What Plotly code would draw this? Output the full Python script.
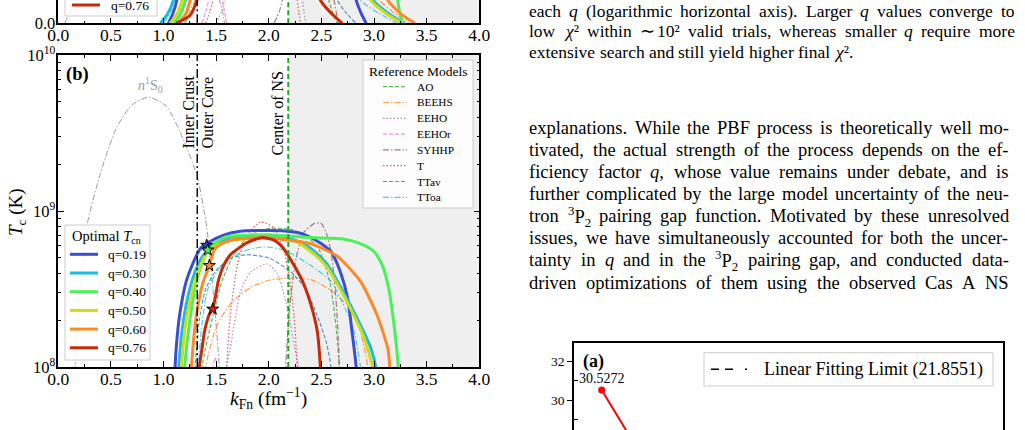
import re
import plotly.graph_objects as go

FONT = "Liberation Serif"
W, H = 1025, 430

# ---------------- panel (b): optimal T_cn curves (T in units of 1e8 K) ----------------
q_labels = ["q=0.19", "q=0.30", "q=0.40", "q=0.50", "q=0.60", "q=0.76"]
q_colors = ["#3b4ed0", "#1cb8e6", "#4cf059", "#cbdc1f", "#fb8a26", "#c52b0b"]

k_q019 = [1.09, 1.11, 1.12, 1.152, 1.216, 1.27, 1.35, 1.43, 1.57, 1.73, 1.95, 2.15, 2.30, 2.40, 2.50, 2.59, 2.68, 2.75, 2.79, 2.83, 2.85]
T_q019 = [0.4, 1.0, 1.32, 2.14, 3.55, 4.47, 5.75, 6.31, 7.0, 7.41, 7.5, 7.45, 7.2, 6.76, 6.17, 5.5, 4.07, 2.75, 1.7, 1.0, 0.4]
k_q030 = [1.12, 1.145, 1.18, 1.24, 1.30, 1.36, 1.42, 1.52, 1.65, 1.85, 2.00, 2.15, 2.30, 2.40, 2.55, 2.71, 2.87, 2.97, 3.016, 3.04]
T_q030 = [0.4, 1.0, 1.8, 3.0, 4.1, 5.0, 5.6, 6.3, 6.75, 6.95, 6.95, 6.8, 6.3, 5.75, 4.6, 3.02, 1.86, 1.32, 1.0, 0.4]
k_q040 = [1.17, 1.20, 1.25, 1.32, 1.42, 1.50, 1.60, 1.80, 2.00, 2.40, 2.71, 2.87, 3.00, 3.08, 3.14, 3.19, 3.23, 3.25]
T_q040 = [0.4, 1.0, 2.0, 3.7, 5.62, 6.3, 6.84, 7.0, 7.05, 6.76, 6.61, 6.17, 5.5, 4.47, 3.16, 1.86, 1.0, 0.4]
k_q050 = [1.145, 1.17, 1.22, 1.30, 1.40, 1.50, 1.65, 1.85, 2.05, 2.25, 2.40, 2.55, 2.71, 2.80, 2.88, 2.94, 2.985, 3.01]
T_q050 = [0.4, 1.0, 2.1, 3.6, 5.25, 6.0, 6.5, 6.7, 6.7, 6.4, 5.5, 4.4, 2.88, 2.2, 1.7, 1.3, 1.0, 0.4]
k_q060 = [1.24, 1.265, 1.31, 1.37, 1.435, 1.49, 1.60, 1.80, 2.00, 2.20, 2.40, 2.65, 2.87, 3.03, 3.13, 3.15, 3.17]
T_q060 = [0.4, 1.0, 2.1, 3.4, 4.47, 5.75, 6.4, 6.68, 6.68, 6.5, 6.17, 5.13, 3.55, 2.14, 1.32, 1.0, 0.4]
k_q076 = [1.32, 1.34, 1.366, 1.39, 1.43, 1.467, 1.49, 1.52, 1.57, 1.635, 1.71, 1.80, 1.94, 2.05, 2.14, 2.23, 2.32, 2.40, 2.46, 2.49, 2.51]
T_q076 = [0.4, 1.0, 1.32, 1.7, 2.14, 2.4, 2.75, 3.55, 4.47, 5.25, 5.75, 6.3, 6.76, 6.5, 5.75, 4.6, 3.55, 2.51, 1.70, 1.0, 0.4]

star_k = [1.41, 1.42, 1.435, 1.467]
star_T = [6.03, 5.62, 4.47, 2.35]
star_colors = ["#3b4ed0", "#4cf059", "#fb8a26", "#c52b0b"]

# ---------------- panel (b): reference models ----------------
ref_names = ["AO", "BEEHS", "EEHO", "EEHOr", "SYHHP", "T", "TTav", "TToa"]
ref_colors = ["#2ca02c", "#ff7f0e", "#9467bd", "#e377c2", "#8c564b", "#d62728", "#1f77b4", "#17becf"]

k_AO = [1.34, 1.366, 1.47, 1.556, 1.667, 1.826, 2.016, 2.21, 2.35, 2.48, 2.58, 2.64, 2.67, 2.69]
T_AO = [0.4, 1.0, 2.14, 3.55, 5.25, 7.08, 7.76, 7.6, 7.0, 5.6, 3.5, 1.8, 1.0, 0.4]
k_BEEHS = [1.36, 1.40, 1.508, 1.65, 1.83, 2.00, 2.20, 2.40, 2.59, 2.71, 2.80, 2.88, 2.94, 2.96]
T_BEEHS = [0.4, 1.0, 1.86, 2.6, 3.24, 3.6, 3.72, 3.63, 3.1, 2.63, 2.3, 1.6, 1.0, 0.4]
k_EEHO = [1.58, 1.60, 1.635, 1.73, 1.83, 1.985, 2.08, 2.15, 2.19, 2.24, 2.28, 2.30]
T_EEHO = [0.4, 1.0, 1.32, 3.02, 4.07, 4.57, 3.98, 2.82, 2.14, 1.4, 1.0, 0.4]
k_EEHOr = [1.45, 1.47, 1.49, 1.51, 1.53]
T_EEHOr = [0.4, 1.0, 1.15, 1.0, 0.4]
k_SYHHP = [2.14, 2.16, 2.20, 2.26, 2.33, 2.43, 2.50, 2.56, 2.60, 2.63, 2.655, 2.67, 2.68]
T_SYHHP = [0.4, 1.0, 2.5, 5.0, 7.24, 8.3, 8.3, 6.8, 5.0, 3.2, 1.8, 1.0, 0.4]
k_T = [1.57, 1.60, 1.63, 1.70, 1.78, 1.92, 2.04, 2.14, 2.20, 2.24, 2.27, 2.29]
T_T = [0.4, 1.0, 2.0, 4.47, 6.8, 8.5, 7.9, 5.75, 3.5, 2.14, 1.0, 0.4]
k_TTav = [1.28, 1.30, 1.34, 1.40, 1.50, 1.65, 1.79, 2.00, 2.21, 2.35, 2.46, 2.55, 2.59, 2.61]
T_TTav = [0.4, 1.0, 2.0, 3.16, 4.17, 5.0, 5.25, 5.0, 4.07, 3.16, 2.14, 1.41, 1.0, 0.4]
k_TToa = [1.31, 1.33, 1.37, 1.42, 1.55, 1.75, 1.95, 2.15, 2.40, 2.59, 2.71, 2.81, 2.87, 2.89]
T_TToa = [0.4, 1.0, 2.0, 3.16, 4.47, 5.5, 5.89, 5.6, 4.47, 3.55, 2.51, 1.70, 1.0, 0.4]

k_n1S0 = [0.14, 0.16, 0.20, 0.27, 0.40, 0.55, 0.70, 0.86, 1.03, 1.19, 1.32, 1.41, 1.47, 1.52, 1.53, 1.55]
T_n1S0 = [0.4, 1.0, 2.8, 7.94, 17.4, 33.9, 47.9, 53.7, 46.8, 28.5, 16.6, 7.94, 3.16, 1.26, 1.0, 0.4]

CRUST_CORE_K = 1.32
NS_CENTER_K = 2.185

# ---------------- panel (a) strip (linear, only the lowest part is visible) ----------------
a_k_q019 = [1.045, 1.09, 1.127, 1.15, 2.81, 2.83, 2.88, 2.925]
a_v_q019 = [0.0, 0.026, 0.06, 0.10, 0.10, 0.06, 0.024, 0.0]
a_k_q030 = [0.97, 1.04, 1.095, 1.12, 2.96, 2.99, 3.14, 3.29]
a_v_q030 = [0.0, 0.025, 0.06, 0.10, 0.10, 0.06, 0.025, 0.0]
a_k_q040 = [1.10, 1.16, 1.206, 1.23, 3.21, 3.225, 3.245, 3.27]
a_v_q040 = [0.0, 0.024, 0.06, 0.10, 0.10, 0.06, 0.026, 0.0]
a_k_q050 = [1.06, 1.13, 1.175, 1.20, 2.94, 2.97, 3.12, 3.27]
a_v_q050 = [0.0, 0.025, 0.06, 0.10, 0.10, 0.06, 0.024, 0.0]
a_k_q060 = [1.14, 1.21, 1.254, 1.28, 3.10, 3.13, 3.26, 3.39]
a_v_q060 = [0.0, 0.024, 0.06, 0.10, 0.10, 0.06, 0.023, 0.0]
a_k_q076 = [1.12, 1.25, 1.318, 1.35, 2.46, 2.49, 2.60, 2.70]
a_v_q076 = [0.0, 0.020, 0.06, 0.10, 0.10, 0.06, 0.024, 0.0]

a_k_AO = [1.20, 1.27, 1.31, 1.33, 2.55, 2.57, 2.61, 2.65]
a_v_AO = [0.0, 0.03, 0.06, 0.10, 0.10, 0.06, 0.025, 0.0]
a_k_BEEHS = [1.15, 1.24, 1.30, 1.33, 3.02, 3.05, 3.20, 3.33]
a_v_BEEHS = [0.0, 0.03, 0.06, 0.10, 0.10, 0.06, 0.025, 0.0]
a_k_EEHO = [1.50, 1.55, 1.58, 1.60, 2.30, 2.32, 2.335, 2.35]
a_v_EEHO = [0.0, 0.03, 0.06, 0.10, 0.10, 0.06, 0.03, 0.0]
a_k_EEHOr = [1.366, 1.40, 1.43, 1.45, 1.53, 1.556, 1.58, 1.60]
a_v_EEHOr = [0.0, 0.03, 0.06, 0.10, 0.10, 0.06, 0.03, 0.0]
a_k_SYHHP = [2.05, 2.10, 2.13, 2.15, 2.60, 2.62, 2.64, 2.66]
a_v_SYHHP = [0.0, 0.03, 0.06, 0.10, 0.10, 0.06, 0.03, 0.0]
a_k_T = [1.40, 1.44, 1.47, 1.49, 2.25, 2.27, 2.285, 2.30]
a_v_T = [0.0, 0.03, 0.06, 0.10, 0.10, 0.06, 0.03, 0.0]
a_k_TTav = [1.12, 1.18, 1.22, 1.25, 2.62, 2.65, 2.74, 2.83]
a_v_TTav = [0.0, 0.03, 0.06, 0.10, 0.10, 0.06, 0.025, 0.0]
a_k_TToa = [1.00, 1.07, 1.12, 1.15, 2.84, 2.87, 3.05, 3.22]
a_v_TToa = [0.0, 0.03, 0.06, 0.10, 0.10, 0.06, 0.025, 0.0]
a_k_n1S0 = [0.06, 0.11, 0.15, 0.18, 1.50, 1.53, 1.56, 1.58]
a_v_n1S0 = [0.0, 0.03, 0.06, 0.10, 0.10, 0.06, 0.03, 0.0]

# ---------------- bottom-right chi^2 panel ----------------
chi_x = [0.0646, 0.15]
chi_y = [30.5272, 27.37]
fit_limit = 21.8551

# ---------------- tick labels ----------------
x_ticks = [0.0, 0.5, 1.0, 1.5, 2.0, 2.5, 3.0, 3.5, 4.0]
x_ticktext = ["%.1f" % v for v in x_ticks]
y_ticks = [1e8, 1e9, 1e10]
y_ticktext = ["10<sup>8</sup>", "10<sup>9</sup>", "10<sup>10</sup>"]
y_minor = [m * 10 ** e for e in (8, 9) for m in range(2, 10)]

# ---------------- page text ----------------
caption_lines = [
    "each <i>q</i> (logarithmic horizontal axis). Larger <i>q</i> values converge to",
    "low <i>χ</i>² within ∼ 10² valid trials, whereas smaller <i>q</i> require more",
    "extensive search and still yield higher final <i>χ</i>².",
]
body_lines = [
    "explanations. While the PBF process is theoretically well mo-",
    "tivated, the actual strength of the process depends on the ef-",
    "ficiency factor <i>q</i>, whose value remains under debate, and is",
    "further complicated by the large model uncertainty of the neu-",
    "tron <sup>3</sup>P<sub>2</sub> pairing gap function. Motivated by these unresolved",
    "issues, we have simultaneously accounted for both the uncer-",
    "tainty in <i>q</i> and in the <sup>3</sup>P<sub>2</sub> pairing gap, and conducted data-",
    "driven optimizations of them using the observed Cas A NS",
]

# =====================================================================
def px(x):
    return x / W


def py(y):
    return 1 - y / H


LINE = {"dash": "4px,2px", "dashdot": "6px,2px,1.5px,2px", "dot": "1.5px,2px", "solid": "solid"}
ref_dash = [LINE["dash"], LINE["dashdot"], LINE["dot"], LINE["dash"], LINE["dashdot"], LINE["dot"], LINE["dash"], LINE["dashdot"]]

fig = go.Figure()


def curve(k, v, color, width, dash, opacity=1.0, xa="x", ya="y", scale=1e8):
    fig.add_trace(go.Scatter(
        x=k, y=[t * scale for t in v], mode="lines",
        line=dict(color=color, width=width, dash=dash, shape="spline", smoothing=0.6),
        opacity=opacity, xaxis=xa, yaxis=ya, showlegend=False, hoverinfo="skip"))


# panel (b)
curve(k_n1S0, T_n1S0, "#9a9a9a", 1.0, LINE["dashdot"])
ref_b = [(k_AO, T_AO), (k_BEEHS, T_BEEHS), (k_EEHO, T_EEHO), (k_EEHOr, T_EEHOr),
         (k_SYHHP, T_SYHHP), (k_T, T_T), (k_TTav, T_TTav), (k_TToa, T_TToa)]
for (k, v), c, d in zip(ref_b, ref_colors, ref_dash):
    curve(k, v, c, 1.2, d, opacity=0.75)
opt_b = [(k_q019, T_q019), (k_q030, T_q030), (k_q040, T_q040), (k_q050, T_q050), (k_q060, T_q060), (k_q076, T_q076)]
for (k, v), c in zip(opt_b, q_colors):
    curve(k, v, c, 3.0, "solid")
fig.add_trace(go.Scatter(
    x=star_k, y=[t * 1e8 for t in star_T], mode="markers",
    marker=dict(symbol="star", size=9, color=star_colors, line=dict(color="black", width=1)),
    xaxis="x", yaxis="y", showlegend=False, hoverinfo="skip"))

# panel (a) strip
curve(a_k_n1S0, a_v_n1S0, "#9a9a9a", 1.0, LINE["dashdot"], xa="x2", ya="y2", scale=1)
ref_a = [(a_k_AO, a_v_AO), (a_k_BEEHS, a_v_BEEHS), (a_k_EEHO, a_v_EEHO), (a_k_EEHOr, a_v_EEHOr),
         (a_k_SYHHP, a_v_SYHHP), (a_k_T, a_v_T), (a_k_TTav, a_v_TTav), (a_k_TToa, a_v_TToa)]
for (k, v), c, d in zip(ref_a, ref_colors, ref_dash):
    curve(k, v, c, 1.2, d, opacity=0.75, xa="x2", ya="y2", scale=1)
opt_a = [(a_k_q019, a_v_q019), (a_k_q030, a_v_q030), (a_k_q040, a_v_q040),
         (a_k_q050, a_v_q050), (a_k_q060, a_v_q060), (a_k_q076, a_v_q076)]
for (k, v), c in zip(opt_a, q_colors):
    curve(k, v, c, 3.0, "solid", xa="x2", ya="y2", scale=1)

# chi^2 panel
fig.add_trace(go.Scatter(
    x=chi_x, y=chi_y, mode="lines+markers",
    line=dict(color="#ff0000", width=2), marker=dict(color="#ff0000", size=7),
    xaxis="x3", yaxis="y3", showlegend=False, hoverinfo="skip"))

# ---------------- axes ----------------
xtickfont = dict(family=FONT, size=17.5, color="black")
ytickfont = dict(family=FONT, size=16.5, color="black")
common_x = dict(range=[0, 4], tickmode="array", tickvals=x_ticks, ticktext=x_ticktext,
                ticks="inside", ticklen=6, tickwidth=1, tickcolor="black",
                showline=True, linecolor="black", linewidth=1.5, showgrid=False, zeroline=False,
                tickfont=xtickfont, automargin=False, ticklabelstandoff=-5,
                minor=dict(ticks="inside", ticklen=3, tickwidth=1, tickcolor="black",
                           tickmode="linear", tick0=0, dtick=0.25, showgrid=False))
fig.update_layout(
    template="none",
    width=W, height=H, autosize=False,
    margin=dict(l=0, r=0, t=0, b=0, pad=0),
    paper_bgcolor="white", plot_bgcolor="white",
    showlegend=False,
    xaxis=dict(domain=[px(58.3), px(479.3)], anchor="y", mirror="ticks", **common_x),
    yaxis=dict(domain=[py(367), py(55)], anchor="x", type="log", range=[8, 10],
               tickmode="array", tickvals=y_ticks, ticktext=y_ticktext,
               ticks="inside", ticklen=6, tickwidth=1, tickcolor="black",
               showline=True, linecolor="black", linewidth=1.5, mirror="ticks",
               showgrid=False, zeroline=False, tickfont=ytickfont, automargin=False,
               ticklabelstandoff=-2,
               minor=dict(ticks="inside", ticklen=3, tickwidth=1, tickcolor="black",
                          tickmode="array", tickvals=y_minor, showgrid=False)),
    xaxis2=dict(domain=[px(58.3), px(479.3)], anchor="y2", mirror=False, **common_x),
    yaxis2=dict(domain=[py(23.3), 1], anchor="x2", range=[0, 0.06],
                tickmode="array", tickvals=[0.0], ticktext=["0.0"],
                ticks="inside", ticklen=6, tickcolor="black",
                showline=True, linecolor="black", linewidth=1.5, mirror="ticks",
                showgrid=False, zeroline=False, tickfont=ytickfont, automargin=False,
                ticklabelstandoff=-2),
    xaxis3=dict(domain=[px(574), px(1002.7)], anchor="y3", side="top", range=[0, 1],
                showline=True, linecolor="black", linewidth=1.5, ticks="",
                showticklabels=False, showgrid=False, zeroline=False, automargin=False),
    yaxis3=dict(domain=[0, py(343.3)], anchor="x3", range=[28.434, 32.961],
                tickmode="array", tickvals=[30, 32], ticktext=["30", "32"],
                ticks="outside", ticklen=5, tickcolor="black",
                showline=True, linecolor="black", linewidth=1.5, mirror=True,
                showgrid=False, zeroline=False, automargin=False,
                tickfont=dict(family=FONT, size=13.5, color="black"),
                minor=dict(ticks="inside", ticklen=4, tickcolor="black",
                           tickmode="array", tickvals=[29, 31], showgrid=False)),
)

# ---------------- shapes ----------------
for xr, yr in (("x", "y domain"), ("x2", "y2 domain")):
    fig.add_shape(type="rect", xref=xr, yref=yr, x0=NS_CENTER_K, x1=4, y0=0, y1=1,
                  fillcolor="#efefef", line=dict(width=0), layer="below")
    fig.add_shape(type="line", xref=xr, yref=yr, x0=CRUST_CORE_K, x1=CRUST_CORE_K, y0=0, y1=1,
                  line=dict(color="black", width=1.4, dash="9px,3px,2px,3px"))
    fig.add_shape(type="line", xref=xr, yref=yr, x0=NS_CENTER_K, x1=NS_CENTER_K, y0=0, y1=1,
                  line=dict(color="#2ca02c", width=2, dash="5px,3px"))


def box(x0, y0, x1, y1):
    fig.add_shape(type="rect", xref="paper", yref="paper", x0=px(x0), x1=px(x1), y0=py(y1), y1=py(y0),
                  fillcolor="rgba(255,255,255,0.85)", line=dict(color="#cccccc", width=1))


def sample(x0, x1, y, color, width, dash, opacity=1.0):
    fig.add_shape(type="line", xref="paper", yref="paper", x0=px(x0), x1=px(x1), y0=py(y), y1=py(y),
                  line=dict(color=color, width=width, dash=dash), opacity=opacity)


def ann(text, x, y, size, color="black", xanchor="center", yanchor="middle", angle=0):
    fig.add_annotation(text=text, x=px(x), y=py(y), xref="paper", yref="paper", showarrow=False,
                       font=dict(family=FONT, size=size, color=color),
                       xanchor=xanchor, yanchor=yanchor, textangle=angle)


# Optimal T_cn legend
box(65, 225, 150, 360)
ann("Optimal <i>T</i><sub>cn</sub>", 106.7, 236.5, 14.5)
for i, (lab, c) in enumerate(zip(q_labels, q_colors)):
    yy = 254.3 + 18.7 * i
    sample(70, 98, yy, c, 3, "solid")
    ann(lab, 106, yy, 13.5, xanchor="left")

# Reference legend
box(363, 60, 473, 208)
ann("Reference Models", 418.3, 71, 13.5)
for i, (lab, c, d) in enumerate(zip(ref_names, ref_colors, ref_dash)):
    yy = 86.7 + 15.8 * i
    sample(383, 407, yy, c, 1.2, d, opacity=0.75)
    ann(lab, 415, yy, 11.3, xanchor="left")

# panel (a) legend fragment
box(65, -40, 157, 16)
sample(72, 100, 5, q_colors[-1], 3, "solid")
ann(q_labels[-1], 109, 5, 13.5, xanchor="left")

# chi^2 legend
fig.add_shape(type="rect", xref="paper", yref="paper", x0=px(704), x1=px(993), y0=py(386), y1=py(352.7),
              fillcolor="white", line=dict(color="#cccccc", width=1))
sample(711, 753, 369.3, "black", 1.5, "8px,6px,8px,12px,2px,20px")
ann("Linear Fitting Limit (%.4f)" % fit_limit, 762, 369.3, 18, xanchor="left")
ann("<b>(a)</b>", 593, 361, 18)
fig.add_annotation(text="%.4f" % chi_y[0], x=chi_x[0], y=chi_y[0], xref="x3", yref="y3",
                   showarrow=False, yshift=11, xshift=0,
                   font=dict(family=FONT, size=14, color="black"))

# panel (b) texts
ann("<b>(b)</b>", 77.5, 74, 18.5)
ann("<i>n</i><sup>1</sup>S<sub>0</sub>", 150, 85, 14, color="#9a9a9a")
ann("Inner Crust", 188, 112.5, 16, angle=-90)
ann("Outer Core", 207.5, 113, 16, angle=-90)
ann("Center of NS", 277.5, 114, 16, angle=-90)
ann("<i>T</i><sub>c</sub> (K)", 17, 212, 19, angle=-90)
ann("<i>k</i><sub>Fn</sub> (fm<sup>−1</sup>)", 268.5, 398, 19.5)

# ---------------- justified page text ----------------
CW = {' ': 250, '(': 333, ')': 333, ',': 250, '-': 333, '.': 250, '=': 564, '∼': 541, 'χ': 550,
      '²': 300, '³': 300}
for ch in "0123456789":
    CW[ch] = 500
CW.update(dict(zip("ABCDEFGHIJKLMNOPQRSTUVWXYZ",
                   [722, 667, 667, 722, 611, 556, 722, 722, 333, 389, 722, 611, 889, 722, 722, 556, 722, 667, 556, 611, 722, 722, 944, 722, 722, 611])))
CW.update(dict(zip("abcdefghijklmnopqrstuvwxyz",
                   [444, 500, 444, 500, 444, 333, 500, 500, 278, 278, 500, 278, 778, 500, 500, 500, 500, 333, 389, 278, 500, 500, 722, 500, 500, 444])))


def word_width(w, fs):
    total, scale = 0.0, 1.0
    for tok in re.split(r"(<[^>]+>)", w):
        if tok.startswith("<"):
            if tok in ("<sup>", "<sub>"):
                scale = 0.7
            elif tok in ("</sup>", "</sub>"):
                scale = 1.0
            continue
        for ch in tok:
            total += CW.get(ch, 500) * scale
    return total / 1000.0 * fs


def set_text(lines, x0, x1, base0, step, fs, justify):
    for i, (line, just) in enumerate(zip(lines, justify)):
        words = [w for w in line.split(" ") if w]
        widths = [word_width(w, fs) for w in words]
        if just and len(words) > 1:
            gap = (x1 - x0 - sum(widths)) / (len(words) - 1)
        else:
            gap = 0.25 * fs
        x = x0
        yc = base0 + step * i - 0.3375 * fs
        for w, wd in zip(words, widths):
            ann(w, x - 2, yc, fs, xanchor="left")
            x += wd + gap


set_text(caption_lines, 529.3, 1015, 16.5, 20.5, 17.5, [True, True, False])
set_text(body_lines, 529.3, 1008.7, 134.3, 22.07, 18.5, [True] * 8)

fig.write_html("out.html")
